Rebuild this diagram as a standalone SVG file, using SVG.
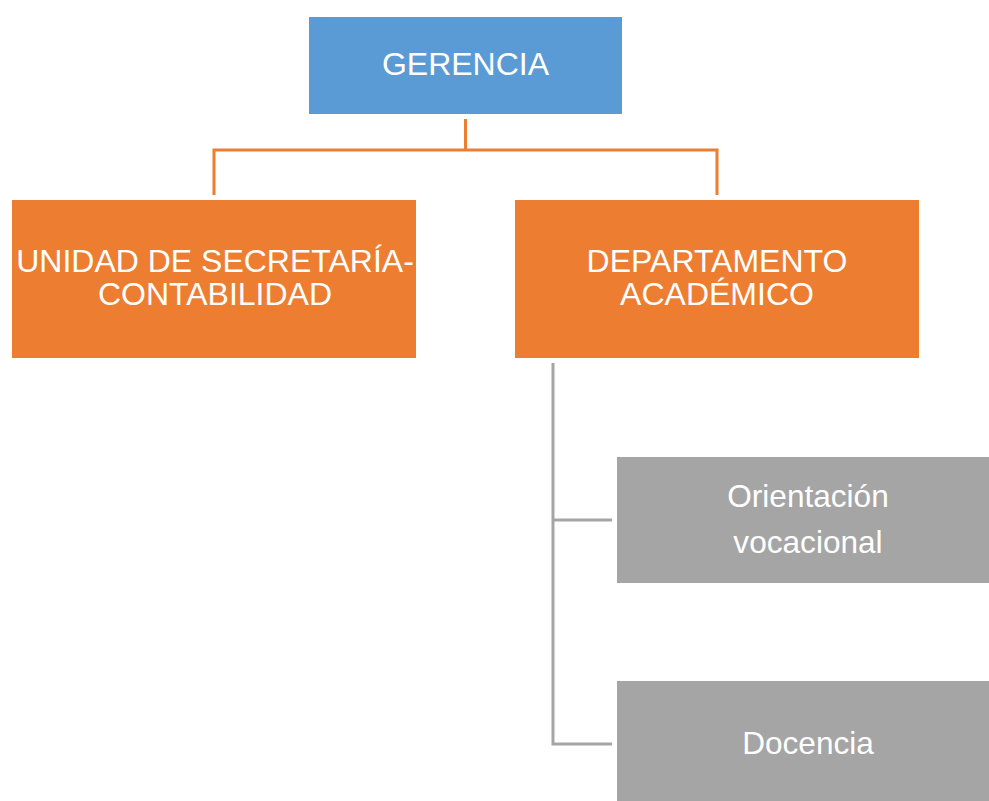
<svg xmlns="http://www.w3.org/2000/svg" width="989" height="801" viewBox="0 0 989 801">
<style>
.t{font-family:"Liberation Sans",Arial,sans-serif;fill:#fff;text-anchor:middle}
.big{font-size:32px}
.sm{font-size:31.6px}
.oc{stroke:#ED7D31;stroke-width:3;fill:none}
.gc{stroke:#A5A5A5;stroke-width:3;fill:none}
</style>
<rect width="989" height="801" fill="#fff"/>
<g id="connectors">
<path class="oc" d="M465.5 119V150M214 195V150H717V195"/>
<path class="gc" d="M553 363V744H612M553 520H612"/>
</g>
<g id="gerencia">
<rect x="309" y="17" width="313" height="97" fill="#5B9BD5"/>
<text class="t big" x="465.5" y="75">GERENCIA</text>
</g>
<g id="unidad">
<rect x="12" y="200" width="404" height="158" fill="#ED7D31"/>
<text class="t big" x="215" y="272">UNIDAD DE SECRETARÍA-</text>
<text class="t big" x="215" y="305">CONTABILIDAD</text>
</g>
<g id="departamento">
<rect x="515" y="200" width="404" height="158" fill="#ED7D31"/>
<text class="t big" x="717" y="272">DEPARTAMENTO</text>
<text class="t big" x="717" y="305">ACADÉMICO</text>
</g>
<g id="orientacion">
<rect x="617" y="457" width="372" height="126" fill="#A5A5A5"/>
<text class="t sm" x="808" y="507">Orientación</text>
<text class="t sm" x="808" y="553">vocacional</text>
</g>
<g id="docencia">
<rect x="617" y="681" width="372" height="120" fill="#A5A5A5"/>
<text class="t sm" x="808" y="754">Docencia</text>
</g>
</svg>
